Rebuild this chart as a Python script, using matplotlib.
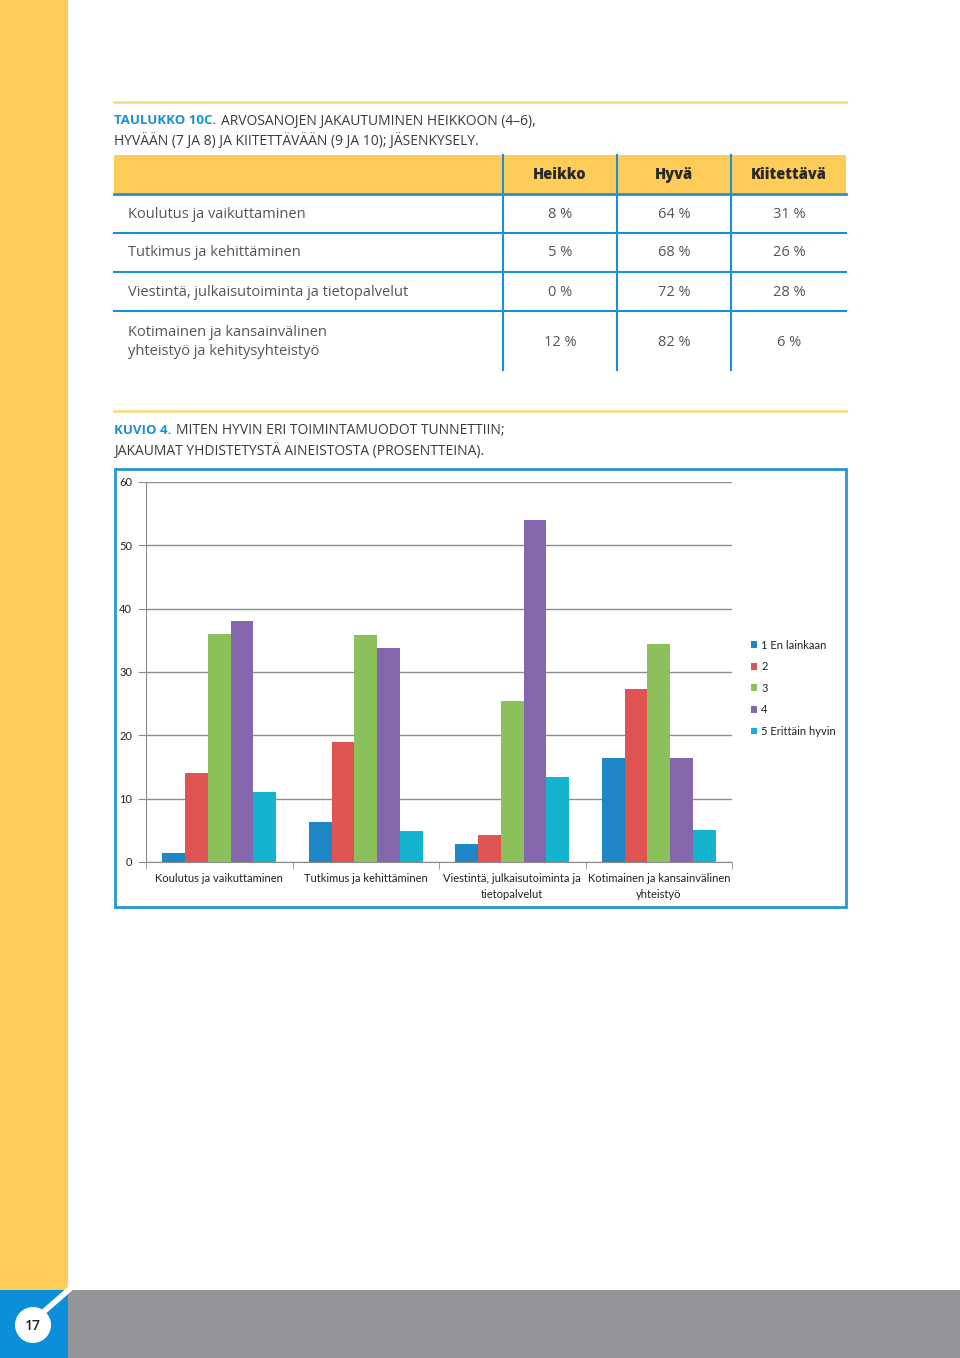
import matplotlib.pyplot as plt
from matplotlib.patches import Rectangle, Circle
import numpy as np

# taulukon data
rivit = ['Koulutus ja vaikuttaminen', 'Tutkimus ja kehittäminen',
         'Viestintä, julkaisutoiminta ja tietopalvelut',
         'Kotimainen ja kansainvälinen\nyhteistyö ja kehitysyhteistyö']
sarakkeet = ['Heikko', 'Hyvä', 'Kiitettävä']
heikko = [8, 5, 0, 12]
hyva = [64, 68, 72, 82]
kiitettava = [31, 26, 28, 6]

# kuvion data
kategoriat = ['Koulutus ja vaikuttaminen', 'Tutkimus ja kehittäminen',
              'Viestintä, julkaisutoiminta ja\ntietopalvelut',
              'Kotimainen ja kansainvälinen\nyhteistyö']
sarjat = ['1 En lainkaan', '2', '3', '4', '5 Erittäin hyvin']
s1 = [1.4, 6.3, 2.8, 16.5]
s2 = [14.0, 19.0, 4.3, 27.3]
s3 = [36.0, 35.9, 25.5, 34.5]
s4 = [38.0, 33.8, 54.0, 16.5]
s5 = [11.0, 4.9, 13.5, 5.1]
varit = ['#1F86C6', '#E05353', '#8BC05A', '#8466AC', '#14B4CF']

W, H = 960, 1358
fig = plt.figure(figsize=(W / 100, H / 100), dpi=100)
page = fig.add_axes([0, 0, 1, 1])
page.set_xlim(0, W)
page.set_ylim(H, 0)
page.axis('off')

keltainen = '#FECC58'
sininen = '#1A90D2'
teksti = '#3a3a3a'

# sivun reunat
page.add_patch(Rectangle((0, 0), 68, 1290, color=keltainen, lw=0))
page.add_patch(Rectangle((68, 1290), W - 68, 68, color='#939598', lw=0))
page.add_patch(Rectangle((0, 1290), 68, 68, color='#0C8FD8', lw=0))
page.plot([40, 72], [1315, 1287], color='white', lw=4, solid_capstyle='butt')
page.add_patch(Circle((33, 1325), 18, color='white', lw=0))
page.text(33, 1326, '17', ha='center', va='center', fontsize=10, color='#222222',
          family='Open Sans', weight='semibold')

# vaakaviivat
for yy in [102, 411]:
    page.plot([114, 846], [yy, yy], color='#FCD98A', lw=2)

fig.canvas.draw()
r = fig.canvas.get_renderer()


def otsikko(x, y, a, b):
    t = page.text(x, y, a, fontsize=9.5, color=sininen, weight='bold',
                  family='Open Sans', va='center')
    bb = t.get_window_extent(renderer=r)
    x2 = bb.x1 + 5
    fig.text(x2 / W, 1 - y / H, b, fontsize=10, color=teksti,
             family='Open Sans', va='center')


otsikko(114, 121, 'TAULUKKO 10C.', 'ARVOSANOJEN JAKAUTUMINEN HEIKKOON (4–6),')
page.text(114, 141, 'HYVÄÄN (7 JA 8) JA KIITETTÄVÄÄN (9 JA 10); JÄSENKYSELY.',
          fontsize=10, color=teksti, family='Open Sans', va='center')

otsikko(114, 431, 'KUVIO 4.', 'MITEN HYVIN ERI TOIMINTAMUODOT TUNNETTIIN;')
page.text(114, 451, 'JAKAUMAT YHDISTETYSTÄ AINEISTOSTA (PROSENTTEINA).',
          fontsize=10, color=teksti, family='Open Sans', va='center')

# taulukko
page.add_patch(Rectangle((114, 155), 732, 38, color=keltainen, lw=0))
sarake_x = [560, 674, 789]
for sx, nimi in zip(sarake_x, sarakkeet):
    page.text(sx, 175, nimi, ha='center', va='center', fontsize=10.5,
              weight='heavy', color='#2a2a2a', family='Open Sans')
page.plot([114, 846], [194, 194], color='#2A8FC0', lw=2)
for yy in [233, 272, 311]:
    page.plot([114, 846], [yy, yy], color=sininen, lw=1.5)
for xx in [503, 617, 731]:
    page.plot([xx, xx], [155, 370], color=sininen, lw=1.5)

rivi_y = [214, 253, 292, 342]
for i, nimi in enumerate(rivit):
    page.text(128, rivi_y[i], nimi, ha='left', va='center', fontsize=10.5,
              color='#555555', family='Open Sans', linespacing=1.45)
    for sx, arvo in zip(sarake_x, [heikko[i], hyva[i], kiitettava[i]]):
        page.text(sx, rivi_y[i], f'{arvo} %', ha='center', va='center',
                  fontsize=10.5, color='#555555', family='Open Sans')

# kuvion kehys
page.add_patch(Rectangle((115, 469), 731, 438, fill=False, ec='#2596D1', lw=2))

# pylväskuvio
ax = fig.add_axes([146 / W, 1 - 862 / H, (732 - 146) / W, (862 - 482) / H])
x = np.arange(len(kategoriat)) + 0.5
lev = 0.155
kaikki = [s1, s2, s3, s4, s5]
for j, (arvot, nimi) in enumerate(zip(kaikki, sarjat)):
    ax.bar(x + (j - 2) * lev, arvot, width=lev, color=varit[j], label=nimi,
           zorder=3)

ax.set_xlim(0, 4)
ax.set_ylim(0, 60)
ax.set_yticks(range(0, 61, 10))
ax.yaxis.grid(True, color='#8c8c8c', lw=1, zorder=0)
ax.set_axisbelow(True)
for s in ['top', 'right']:
    ax.spines[s].set_visible(False)
for s in ['left', 'bottom']:
    ax.spines[s].set_color('#8c8c8c')
ax.tick_params(axis='y', length=6, color='#8c8c8c', labelsize=8,
               labelcolor='#222222', pad=4)
ax.set_xticks(x)
ax.set_xticklabels(kategoriat, fontsize=8, color='#222222', linespacing=1.55)
ax.tick_params(axis='x', length=0, pad=8)
ax.set_xticks(np.arange(0, 5), minor=True)
ax.tick_params(axis='x', which='minor', length=5, color='#8c8c8c')
for t in ax.get_xticklabels() + ax.get_yticklabels():
    t.set_family('Lato')

leg = fig.legend(loc='upper left', bbox_to_anchor=(745 / W, 1 - 634 / H),
                 frameon=False, fontsize=8, handlelength=0.55, handleheight=0.55,
                 handletextpad=0.4, labelspacing=0.95, borderpad=0)
for t in leg.get_texts():
    t.set_family('Lato')
    t.set_color('#222222')

fig.savefig('out.png', dpi=100)
